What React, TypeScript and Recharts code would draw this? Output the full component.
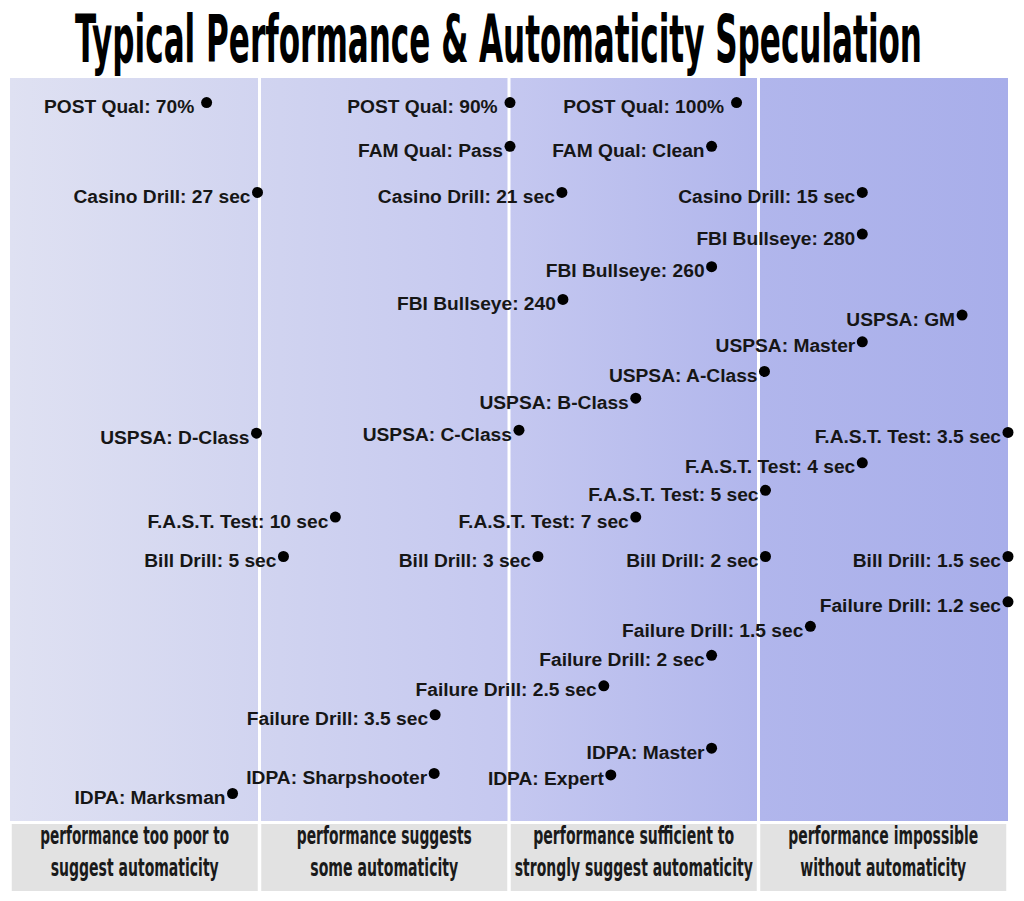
import { ScatterChart, Scatter, XAxis, YAxis, ReferenceArea, ReferenceLine } from 'recharts';

// Each point: label, horizontal "automaticity" score (0-100) and its row position from the top (0-100)
const LABELS = [
    'POST Qual: 70%\u00a0', 'POST Qual: 90%\u00a0', 'POST Qual: 100%\u00a0',
    'FAM Qual: Pass', 'FAM Qual: Clean',
    'Casino Drill: 27 sec', 'Casino Drill: 21 sec', 'Casino Drill: 15 sec',
    'FBI Bullseye: 280', 'FBI Bullseye: 260', 'FBI Bullseye: 240',
    'USPSA: GM', 'USPSA: Master', 'USPSA: A-Class', 'USPSA: B-Class', 'USPSA: C-Class', 'USPSA: D-Class',
    'F.A.S.T. Test: 3.5 sec', 'F.A.S.T. Test: 4 sec', 'F.A.S.T. Test: 5 sec', 'F.A.S.T. Test: 7 sec', 'F.A.S.T. Test: 10 sec',
    'Bill Drill: 5 sec', 'Bill Drill: 3 sec', 'Bill Drill: 2 sec', 'Bill Drill: 1.5 sec',
    'Failure Drill: 1.2 sec', 'Failure Drill: 1.5 sec', 'Failure Drill: 2 sec', 'Failure Drill: 2.5 sec', 'Failure Drill: 3.5 sec',
    'IDPA: Master', 'IDPA: Expert', 'IDPA: Sharpshooter', 'IDPA: Marksman',
];
const SCORES = [
    19.7, 50.1, 72.8,
    50.1, 70.3,
    24.8, 55.3, 85.4,
    85.4, 70.3, 55.4,
    95.4, 85.4, 75.6, 62.7, 51.0, 24.7,
    100, 85.4, 75.7, 62.7, 32.6,
    27.4, 52.9, 75.7, 100,
    100, 80.2, 70.3, 59.5, 42.6,
    70.3, 60.2, 42.5, 22.3,
];
const ROWS = [
    3.3, 3.3, 3.3,
    9.2, 9.2,
    15.4, 15.4, 15.4,
    21.0, 25.4, 29.8,
    31.9, 35.5, 39.5, 43.1, 47.4, 47.8,
    47.7, 51.8, 55.5, 59.1, 59.1,
    64.4, 64.4, 64.4, 64.4,
    70.5, 73.8, 77.7, 81.8, 85.7,
    90.2, 93.8, 93.6, 96.3,
];

const ZONE_CENTERS = [12.5, 37.5, 62.5, 87.5];
const ZONE_BOUNDS = [25, 50, 75];
const ZONE_TOP = ['performance too poor to', 'performance suggests', 'performance sufficient to', 'performance impossible'];
const ZONE_BOTTOM = ['suggest automaticity', 'some automaticity', 'strongly suggest automaticity', 'without automaticity'];

const TITLE = 'Typical Performance & Automaticity Speculation';

const data = LABELS.map((label, i) => ({ label, x: SCORES[i], y: ROWS[i] }));

const TOP_WIDTHS = [189, 175, 201, 190];
const BOTTOM_WIDTHS = [168, 148, 238, 166];
const condensed = "'DejaVu Sans Condensed', 'Liberation Sans Narrow', 'DejaVu Sans', sans-serif";

const PointMark = (props: any) => {
    const { cx, cy, payload } = props;
    return (
        <g>
            <text
                x={cx - 7}
                y={cy + 10.5}
                textAnchor="end"
                fontFamily="'Liberation Sans', Arial, Helvetica, sans-serif"
                fontWeight="bold"
                fontSize={19.2}
                fill="#161616"
                style={{ whiteSpace: 'pre' }}
            >
                {payload.label}
            </text>
            <circle cx={cx} cy={cy} r={5.5} fill="#000" />
        </g>
    );
};

const ZoneTick = (props: any) => {
    const { x, y, payload } = props;
    const i = ZONE_CENTERS.indexOf(payload.value);
    if (i < 0) return null;
    return (
        <g>
            <rect x={x - 123} y={y + 3} width={246} height={67} fill="#e2e2e2" />
            <text x={x} y={y + 23} textAnchor="middle" fontFamily={condensed} fontWeight="bold" fontSize={24}
                fill="#1a1a1a" textLength={TOP_WIDTHS[i]} lengthAdjust="spacingAndGlyphs">
                {ZONE_TOP[i]}
            </text>
            <text x={x} y={y + 55} textAnchor="middle" fontFamily={condensed} fontWeight="bold" fontSize={24}
                fill="#1a1a1a" textLength={BOTTOM_WIDTHS[i]} lengthAdjust="spacingAndGlyphs">
                {ZONE_BOTTOM[i]}
            </text>
        </g>
    );
};

export default function App() {
    return (
        <div style={{ position: 'relative', width: 1024, height: 901, background: '#fff' }}>
            <style>{'body{margin:0}'}</style>
            <ScatterChart width={1024} height={901} margin={{ top: 78, right: 16, bottom: 10, left: 10 }}>
                <defs>
                    <linearGradient id="bgGrad" x1="0" y1="0" x2="1" y2="0">
                        <stop offset="0%" stopColor="#dfe1f2" />
                        <stop offset="25%" stopColor="#d1d4f0" />
                        <stop offset="50%" stopColor="#c5c8f0" />
                        <stop offset="75%" stopColor="#b1b6ec" />
                        <stop offset="100%" stopColor="#a8aeea" />
                    </linearGradient>
                </defs>
                <XAxis
                    type="number"
                    dataKey="x"
                    domain={[0, 100]}
                    ticks={ZONE_CENTERS}
                    interval={0}
                    axisLine={false}
                    tickLine={false}
                    tickSize={0}
                    tickMargin={0}
                    height={70}
                    tick={ZoneTick}
                />
                <YAxis type="number" dataKey="y" domain={[0, 100]} reversed hide />
                <ReferenceArea x1={0} x2={100} y1={0} y2={100} fill="url(#bgGrad)" fillOpacity={1} stroke="none" />
                {ZONE_BOUNDS.map(b => (
                    <ReferenceLine key={b} x={b} stroke="#ffffff" strokeWidth={3} />
                ))}
                <Scatter data={data} shape={PointMark} isAnimationActive={false} />
            </ScatterChart>
            <svg width={1024} height={80} style={{ position: 'absolute', left: 0, top: 0, pointerEvents: 'none' }}>
                <text x={75} y={62} textLength={847} lengthAdjust="spacingAndGlyphs" fontFamily={condensed}
                    fontWeight="bold" fontSize={66} fill="#000">
                    {TITLE}
                </text>
            </svg>
        </div>
    );
}
